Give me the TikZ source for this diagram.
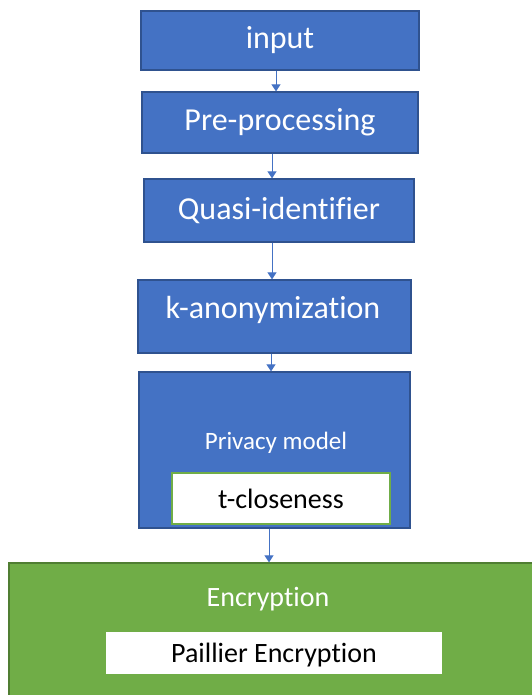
\documentclass[tikz,border=0pt]{standalone}
\usepackage{fontspec}
\setmainfont{Carlito}[Ligatures={NoCommon,NoRequired,NoContextual},RawFeature={-liga;-clig;-calt;-dlig}]
\usetikzlibrary{arrows.meta}
\definecolor{bluefill}{HTML}{4472C4}
\definecolor{blueline}{HTML}{2F528F}
\definecolor{greenfill}{HTML}{70AD47}
\definecolor{greenline}{HTML}{507E32}
\tikzset{
  bluebox/.style={draw=blueline, line width=1.2pt, fill=bluefill, text=white, font=\fontsize{32}{36}\selectfont, inner sep=0pt},
  whitebox/.style={fill=white, text=black, font=\fontsize{28}{32}\selectfont, inner sep=0pt},
  arr/.style={draw=bluefill, line width=1pt, -{Triangle[width=9pt,length=7pt]}}
}
\begin{document}
\begin{tikzpicture}[x=1pt,y=-1pt]
\useasboundingbox (0,0) rectangle (531,695);
\node[bluebox, minimum width=278pt, minimum height=59pt] (input) at (280,40.5) {input};
\node[bluebox, minimum width=276pt, minimum height=61pt] (pre) at (280,122.5) {Pre-processing};
\node[bluebox, minimum width=270pt, minimum height=63pt] (quasi) at (279,210.5) {Quasi-identifier};
\node[bluebox, minimum width=273pt, minimum height=73pt] (kanon) at (274.5,316.5) {};
\node[text=white, font=\fontsize{32}{36}\selectfont, inner sep=0pt] (kanonlabel) at (273,310) {k-anonymization};
\node[bluebox, minimum width=271pt, minimum height=156pt] (privacy) at (274.5,450) {};
\node[text=white, font=\fontsize{25}{28}\selectfont, inner sep=0pt] (privlabel) at (276,443) {Privacy model};
\node[whitebox, draw=greenfill, line width=1.5pt, minimum width=218pt, minimum height=51pt] (tclose) at (281,498.5) {t-closeness};
\node[draw=greenline, line width=1.2pt, fill=greenfill, inner sep=0pt, minimum width=532pt, minimum height=140pt] (enc) at (275,633) {};
\node[text=white, font=\fontsize{28}{32}\selectfont, inner sep=0pt] (enclabel) at (268,599) {Encryption};
\node[whitebox, minimum width=336pt, minimum height=42pt] (paillier) at (274,653) {};
\node[text=black, font=\fontsize{28}{32}\selectfont, inner sep=0pt] (paillierlabel) at (274,655) {Paillier Encryption};
\coordinate (c1) at (276,0);
\coordinate (c2) at (272,0);
\coordinate (c3) at (272,0);
\coordinate (c4) at (271,0);
\coordinate (c5) at (269,0);
\draw[arr] (input.south -| c1) -- (pre.north -| c1);
\draw[arr] (pre.south -| c2) -- (quasi.north -| c2);
\draw[arr] (quasi.south -| c3) -- (kanon.north -| c3);
\draw[arr] (kanon.south -| c4) -- (privacy.north -| c4);
\draw[arr] (privacy.south -| c5) -- (enc.north -| c5);
\end{tikzpicture}
\end{document}
